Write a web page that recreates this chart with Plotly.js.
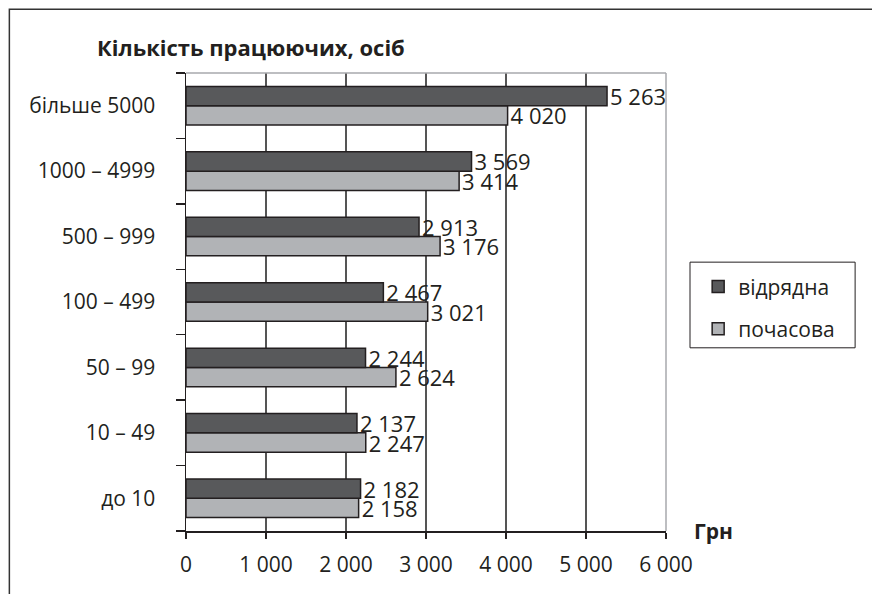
<!DOCTYPE html>
<html>
<head>
<meta charset="utf-8">
<script src="https://cdn.plot.ly/plotly-3.0.1.min.js"></script>
<style>
html,body{margin:0;padding:0;background:#fff;}
#chart{width:872px;height:594px;}
</style>
</head>
<body>
<div id="chart"></div>
<script>
var categories = ["до 10", "10 – 49", "50 – 99", "100 – 499", "500 – 999", "1000 – 4999", "більше 5000"];
var piecework = [2182, 2137, 2244, 2467, 2913, 3569, 5263];   // відрядна
var hourly = [2158, 2247, 2624, 3021, 3176, 3414, 4020];      // почасова
var seriesNames = ["відрядна", "почасова"];
var xTicks = [0, 1000, 2000, 3000, 4000, 5000, 6000];
var titleText = "Кількість працюючих, осіб";
var unitText = "Грн";

var FONT = "Open Sans, Noto Sans, sans-serif";

var traceHourly = {
  type: "bar", orientation: "h",
  y: categories, x: hourly, name: seriesNames[1],
  legendgroup: "b", legendrank: 2,
  marker: {color: "#b1b3b6", line: {color: "#231f20", width: 1.5}},
  texttemplate: "%{x:,}", textposition: "outside",
  textfont: {family: FONT, size: 22, color: "#231f20"},
  constraintext: "none", cliponaxis: false, hoverinfo: "none"
};
var tracePiece = {
  type: "bar", orientation: "h",
  y: categories, x: piecework, name: seriesNames[0],
  legendgroup: "a", legendrank: 1,
  marker: {color: "#58595b", line: {color: "#231f20", width: 1.5}},
  texttemplate: "%{x:,}", textposition: "outside",
  textfont: {family: FONT, size: 22, color: "#231f20"},
  constraintext: "none", cliponaxis: false, hoverinfo: "none"
};

var layout = {
  width: 872, height: 594,
  margin: {l: 186, r: 206, t: 73, b: 63},
  paper_bgcolor: "#fff", plot_bgcolor: "#fff",
  separators: ", ",
  barmode: "group", bargap: 0.41, bargroupgap: 0,
  font: {family: FONT, size: 21, color: "#231f20"},
  showlegend: true,
  legend: {
    x: 1.067, y: 0.578, xanchor: "left", yanchor: "top",
    traceorder: "grouped", tracegroupgap: 12,
    borderwidth: 0, bgcolor: "rgba(0,0,0,0)",
    font: {family: FONT, size: 21, color: "#231f20"},
    itemwidth: 30
  },
  xaxis: {
    range: [0, 6000], tickvals: xTicks, tickformat: ",",
    showgrid: true, gridcolor: "#555", gridwidth: 1.5,
    zeroline: false, showline: true, linecolor: "#231f20", linewidth: 1.5,
    ticks: "outside", ticklen: 6, tickcolor: "#231f20", tickwidth: 1.5,
    tickfont: {family: FONT, size: 21, color: "#231f20"}, ticklabelstandoff: 8, fixedrange: true
  },
  yaxis: {
    type: "category", categoryorder: "array", categoryarray: categories,
    showgrid: false, zeroline: false, showline: true, linecolor: "#231f20", linewidth: 1.5,
    ticks: "outside", tickson: "boundaries", ticklen: 9, tickcolor: "#231f20", tickwidth: 1.5,
    tickfont: {family: FONT, size: 21, color: "#231f20"}, ticklabelstandoff: 25, fixedrange: true
  },
  shapes: [
    {type: "line", xref: "paper", yref: "paper", x0: 0, x1: 1, y0: 1, y1: 1, line: {color: "#a7a9ac", width: 1.5}, layer: "above"},
    {type: "line", xref: "paper", yref: "paper", x0: 1, x1: 1, y0: 0, y1: 1, line: {color: "#a7a9ac", width: 1.5}, layer: "above"},
    {type: "rect", xref: "paper", yref: "paper", x0: -0.368, x1: 2.0, y0: 1.139, y1: -0.3, line: {color: "#333", width: 1.5}, fillcolor: "rgba(0,0,0,0)"},
    {type: "rect", xref: "paper", yref: "paper", x0: 1.05, x1: 1.394, y0: 0.587, y1: 0.4, line: {color: "#231f20", width: 1}, fillcolor: "rgba(0,0,0,0)"}
  ],
  annotations: [
    {text: "<b>" + titleText + "</b>", xref: "paper", yref: "paper", x: -0.19, y: 1.057,
     xanchor: "left", yanchor: "middle", showarrow: false,
     font: {family: FONT, size: 22, color: "#231f20"}},
    {text: "<b>" + unitText + "</b>", xref: "paper", yref: "paper", x: 1.054, y: 0,
     xanchor: "left", yanchor: "middle", showarrow: false,
     font: {family: FONT, size: 21, color: "#231f20"}}
  ]
};

Plotly.newPlot("chart", [traceHourly, tracePiece], layout, {displayModeBar: false, staticPlot: true});
</script>
</body>
</html>
